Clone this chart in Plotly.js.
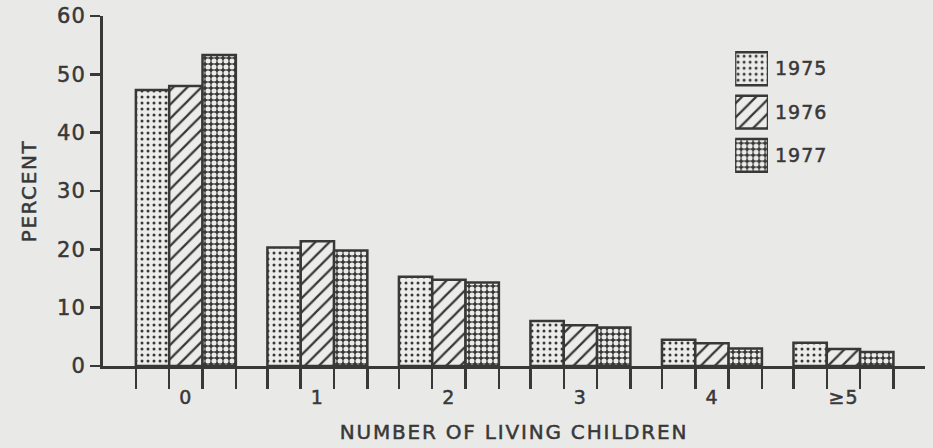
<!DOCTYPE html>
<html>
<head>
<meta charset="utf-8">
<script src="https://cdn.plot.ly/plotly-3.0.1.min.js"></script>
<style>
html,body{margin:0;padding:0;background:#e9e9e7;}
.g-x3title text{letter-spacing:1.8px;}
.g-ytitle text{letter-spacing:1.6px;}
.xtick text, .x3tick text, .ytick text, .y2tick text{letter-spacing:1px;}
svg text{stroke:#383838 !important;stroke-width:0.5px !important;}
</style>
</head>
<body>
<div id="chart" style="width:933px;height:448px;"></div>
<script>
// ---- data ----
const categories = ["0", "1", "2", "3", "4", "≥5"];
const years = ["1975", "1976", "1977"];
const pct1975 = [47.3, 20.3, 15.3, 7.7, 4.5, 4.0];
const pct1976 = [48.0, 21.4, 14.8, 7.0, 3.9, 2.9];
const pct1977 = [53.3, 19.8, 14.3, 6.6, 3.0, 2.4];
const yTicks = [0, 10, 20, 30, 40, 50, 60];

// ---- styles ----
const INK = "#383838";
const PAPER = "#e9e9e7";
const LIGHT = "#ececea";
const BARGAP = 0.24;
const patterns = [
  {shape: ".", fgcolor: INK, bgcolor: LIGHT, size: 6, solidity: 0.2},
  {shape: "/", fgcolor: INK, bgcolor: LIGHT, size: 10, solidity: 0.22},
  {shape: ".", fgcolor: LIGHT, bgcolor: INK, size: 6, solidity: 0.55}
];
const series = [pct1975, pct1976, pct1977];

const xIdx = categories.map((c, i) => i);
const traces = series.map((vals, s) => ({
  type: "bar",
  name: years[s],
  x: xIdx,
  y: vals,
  xaxis: "x",
  yaxis: "y",
  showlegend: false,
  hoverinfo: "skip",
  marker: {color: LIGHT, line: {color: INK, width: 2.5}, pattern: patterns[s]}
}));

// invisible carrier so the category-label axis is drawn
traces.push({
  type: "scatter", mode: "markers", x: xIdx, y: xIdx.map(() => 0),
  xaxis: "x3", yaxis: "y", showlegend: false, hoverinfo: "skip",
  marker: {opacity: 0}
});

// legend swatches as an inset bar subplot
traces.push({
  type: "bar",
  orientation: "h",
  y: years,
  x: years.map(() => 1),
  xaxis: "x2",
  yaxis: "y2",
  showlegend: false,
  hoverinfo: "skip",
  marker: {
    color: LIGHT,
    line: {color: INK, width: 2.5},
    pattern: {
      shape: patterns.map(p => p.shape),
      fgcolor: patterns.map(p => p.fgcolor),
      bgcolor: patterns.map(p => p.bgcolor),
      size: patterns.map(p => p.size),
      solidity: patterns.map(p => p.solidity)
    }
  }
});

// tick positions at the bar boundaries (derived from bargap & number of series)
const n = series.length;
const bw = (1 - BARGAP) / n;
const boundaryTicks = [];
xIdx.forEach(i => { for (let k = 0; k <= n; k++) boundaryTicks.push(i - (1 - BARGAP) / 2 + k * bw); });

const xRange = [-0.63, 5.62];
const fontFam = "'DejaVu Sans', 'Liberation Sans', sans-serif";

const layout = {
  width: 933, height: 448,
  margin: {l: 103, r: 8, t: 16, b: 82},
  paper_bgcolor: PAPER, plot_bgcolor: PAPER,
  barmode: "group", bargap: BARGAP, bargroupgap: 0,
  font: {family: fontFam, color: INK, size: 18},
  xaxis: {
    range: xRange, tickmode: "array", tickvals: boundaryTicks,
    ticks: "outside", ticklen: 20, tickwidth: 2.5, tickcolor: INK,
    showticklabels: false, showline: true, linewidth: 3, linecolor: INK,
    showgrid: false, zeroline: false, fixedrange: true
  },
  xaxis3: {
    overlaying: "x", anchor: "y", side: "bottom", range: xRange,
    tickmode: "array", tickvals: xIdx, ticktext: categories,
    ticks: "outside", ticklen: 14, tickcolor: "rgba(0,0,0,0)",
    tickfont: {size: 19, color: INK},
    showline: false, showgrid: false, zeroline: false,
    title: {text: "NUMBER OF LIVING CHILDREN", font: {size: 20, color: INK}, standoff: 18}
  },
  yaxis: {
    range: [0, 60], tickmode: "array", tickvals: yTicks,
    ticks: "outside", ticklen: 10, tickwidth: 2.5, tickcolor: INK,
    tickfont: {size: 21, color: INK},
    showline: true, linewidth: 3, linecolor: INK,
    showgrid: false, zeroline: false,
    title: {text: "PERCENT", font: {size: 20, color: INK}, standoff: 16}
  },
  xaxis2: {domain: [0.769, 0.809], anchor: "y2", range: [0, 1], visible: false},
  yaxis2: {
    domain: [0.54, 0.911], anchor: "x2", side: "right",
    type: "category", autorange: "reversed",
    ticks: "", showline: false, showgrid: false, zeroline: false,
    ticklabelstandoff: 6,
    tickfont: {size: 19, color: INK}
  }
};

Plotly.newPlot("chart", traces, layout, {displayModeBar: false, staticPlot: true});
</script>
</body>
</html>
